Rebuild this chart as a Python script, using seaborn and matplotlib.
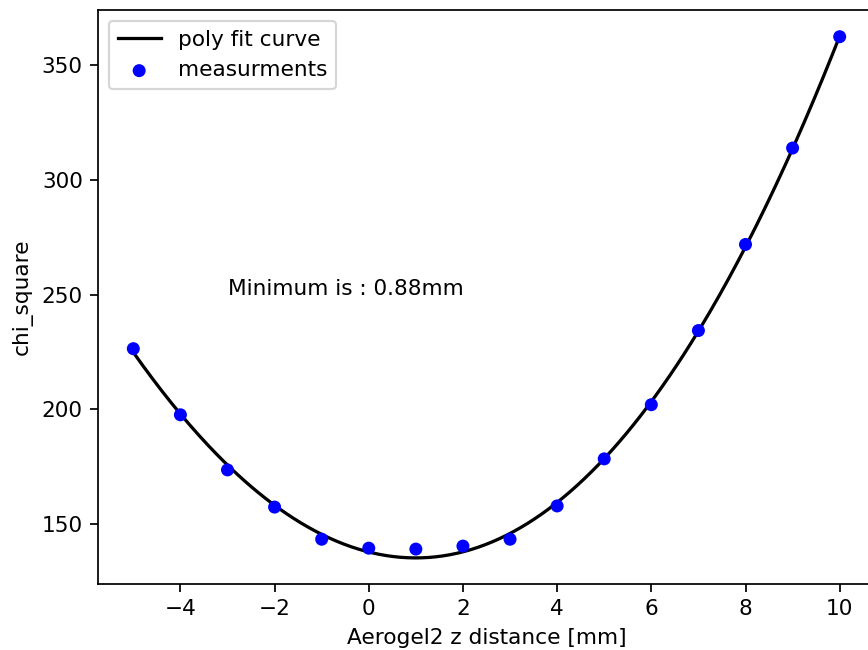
import numpy as np
import pandas as pd
import matplotlib
matplotlib.use("Agg")
import matplotlib.pyplot as plt
import seaborn as sns

z_mm = [-5, -4, -3, -2, -1, 0, 1, 2, 3, 4, 5, 6, 7, 8, 9, 10]
chi_square = [226.4, 197.6, 173.6, 157.4, 143.4, 139.5, 139.1, 140.4,
              143.4, 157.9, 178.4, 202.0, 234.3, 271.8, 313.8, 362.3]

coef = np.polyfit(z_mm, chi_square, 3)
z_fit = np.linspace(min(z_mm), max(z_mm), 300)
chi_fit = np.polyval(coef, z_fit)

meas = pd.DataFrame({"z": z_mm, "chi": chi_square})
fit = pd.DataFrame({"z": z_fit, "chi": chi_fit})

DPI = 156
fig = plt.figure(figsize=(868 / DPI, 650 / DPI), dpi=DPI)
ax = fig.add_axes([98 / 868, 1 - 584 / 650, (875 - 98) / 868, (584 - 10) / 650])

sns.lineplot(data=fit, x="z", y="chi", ax=ax, color="black", lw=1.5,
             label="poly fit curve")
sns.scatterplot(data=meas, x="z", y="chi", ax=ax, color="blue", s=36,
                edgecolor="none", label="measurments", zorder=3)

ax.text(-3, 250, "Minimum is : 0.88mm")
ax.set_xlabel("Aerogel2 z distance [mm]")
ax.set_ylabel("chi_square")
ax.legend(loc="upper left")

fig.savefig("out.png", dpi=DPI)
